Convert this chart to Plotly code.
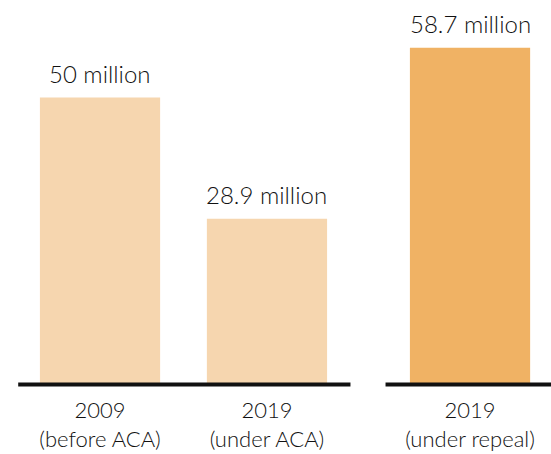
import plotly.graph_objects as go

categories = ["2009<br>(before ACA)", "2019<br>(under ACA)", "2019<br>(under repeal)"]
positions = [0.0, 1.0, 2.216]
values = [50.0, 28.9, 58.7]
value_labels = ["50 million", "28.9 million", "58.7 million"]
colors = ["#F6D6AF", "#F6D6AF", "#F0B264"]

BAR_W = 0.72
FONT = "Lato"

fig = go.Figure()
fig.add_trace(go.Bar(
    x=positions, y=values, width=BAR_W,
    marker=dict(color=colors, line=dict(width=0)),
    hoverinfo="skip",
))

for x, v, t in zip(positions, values, value_labels):
    fig.add_annotation(x=x, y=v, text=t, showarrow=False, yanchor="bottom",
                       yshift=8, font=dict(family=FONT, size=24, color="#111111", weight=300))

# baselines (two groups)
fig.add_shape(type="line", xref="x", yref="y", x0=-0.49, x1=1.50, y0=0, y1=0,
              line=dict(color="#111111", width=4))
fig.add_shape(type="line", xref="x", yref="y", x0=1.71, x1=2.75, y0=0, y1=0,
              line=dict(color="#111111", width=4))

fig.update_layout(
    width=551, height=454,
    margin=dict(l=0, r=0, t=0, b=66),
    plot_bgcolor="white", paper_bgcolor="white",
    showlegend=False,
    xaxis=dict(range=[-0.599, 2.701], tickvals=positions, ticktext=categories,
               showgrid=False, zeroline=False, showline=False, automargin=False,
               ticks="outside", ticklen=3, tickcolor="rgba(0,0,0,0)",
               tickfont=dict(family=FONT, size=22, color="#111111", weight=300)),
    yaxis=dict(range=[-0.6, 67.0], visible=False, showgrid=False, zeroline=False,
               automargin=False),
)

fig.write_html("out.html", config={"displayModeBar": False},
               post_script="document.body.style.margin='0';document.body.style.overflow='hidden';")
